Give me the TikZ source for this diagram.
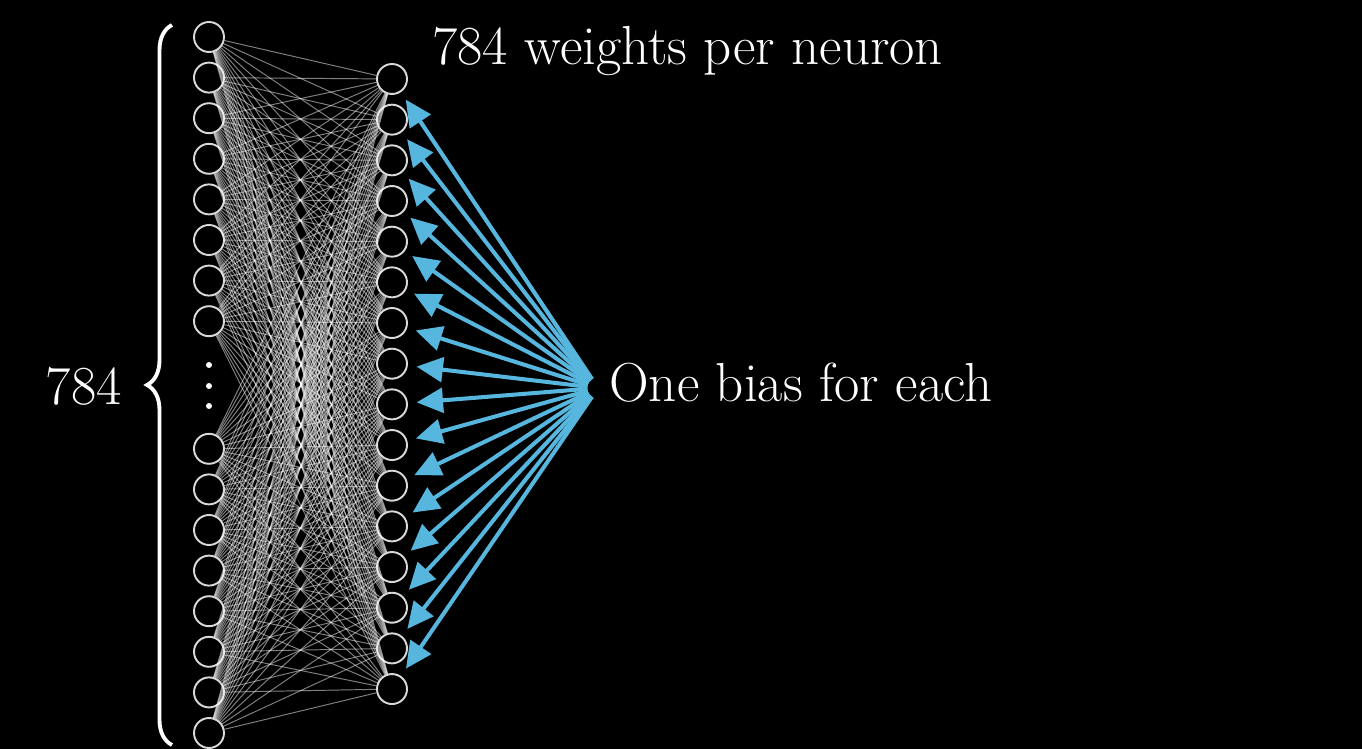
\documentclass[tikz,border=0pt]{standalone}
\usepackage{fontspec}
\usetikzlibrary{arrows.meta,decorations.pathreplacing}
\definecolor{biasblue}{RGB}{86,182,222}
\tikzset{
  neuron/.style={
    circle,
    fill=black,
    draw=white!85!black,
    line width=1.1pt,
    minimum size=0.6cm,
    inner sep=0pt,
  },
  weight/.style={draw=white, opacity=0.5, line width=0.55pt},
  bias/.style={
    draw=biasblue,
    line width=2.3pt,
    arrows={-Triangle[length=15pt, width=14pt]},
    shorten <=6pt,
    shorten >=5pt,
  },
  label/.style={text=white, inner sep=0pt, font=\fontsize{31.3}{37}\selectfont},
}

\begin{document}
\begin{tikzpicture}[x=0.02cm, y=-0.02cm]
    \fill[black] (0, 0) rectangle (1362, 749);

    % input layer, top and bottom half
    \foreach \i in {0,...,7} {
        \node[neuron] (in\i) at (209, {37+40.6*\i}) {};
    }
    \foreach \i in {8,...,15} {
        \node[neuron] (in\i) at (209, {448.8+40.6*(\i-8)}) {};
    }
    \foreach \y in {365, 386, 406} {
        \fill[white] (209, \y) circle (1.7pt);
    }

    % hidden layer
    \foreach \j in {0,...,15} {
        \node[neuron] (out\j) at (392, {79+40.67*\j}) {};
    }

    \foreach \i in {0,...,15} {
        \foreach \j in {0,...,15} {
            \draw[weight] (in\i) -- (out\j);
        }
    }

    % one arrow per neuron
    \coordinate (src) at (598, 388);
    \foreach \j in {0,...,15} {
        \draw[bias] (src) -- (out\j);
    }

    \node[label, anchor=base west] (weights) at (432, 65) {784 weights per neuron};
    \node[label, anchor=base west] (biastext) at (609, 402) {One bias for each};

    % brace and count
    \draw[white, line width=2.2pt, decorate, decoration={brace, amplitude=0.5cm}] (172, 745) -- (172, 25);
    \node[label, anchor=east] (count) at (122, 386) {784};

\end{tikzpicture}
\end{document}
